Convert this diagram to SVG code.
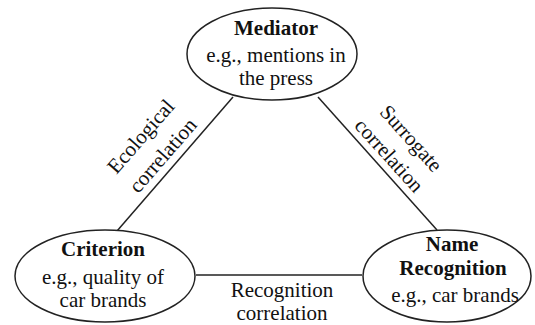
<svg xmlns="http://www.w3.org/2000/svg" width="535" height="325" viewBox="0 0 535 325">
<style>
.node{fill:#fff;stroke:#222;stroke-width:1.5}
.edge{stroke:#222;stroke-width:1.5;fill:none}
text{font-family:"Liberation Serif","Times New Roman",serif;font-size:21px;fill:#111;text-anchor:middle}
.b{font-weight:bold}
</style>
<rect width="535" height="325" fill="#fff"/>
<g id="connectors">
<line class="edge" x1="233" y1="97" x2="117" y2="231"/>
<line class="edge" x1="318" y1="97" x2="437" y2="230"/>
<line class="edge" x1="196" y1="275" x2="362" y2="275"/>
<text transform="translate(146,141) rotate(-49)">Ecological</text>
<text transform="translate(168,160) rotate(-49)">correlation</text>
<text transform="translate(406,143) rotate(48)">Surrogate</text>
<text transform="translate(384,160) rotate(48)">correlation</text>
<text x="282" y="297">Recognition</text>
<text x="282" y="320">correlation</text>
</g>
<g id="mediator">
<ellipse class="node" cx="272" cy="54" rx="85" ry="46"/>
<text class="b" x="276" y="35">Mediator</text>
<text x="276" y="62">e.g., mentions in</text>
<text x="276" y="85">the press</text>
</g>
<g id="criterion">
<ellipse class="node" cx="105" cy="276" rx="90" ry="46"/>
<text class="b" x="103" y="256">Criterion</text>
<text x="103" y="284">e.g., quality of</text>
<text x="103" y="307">car brands</text>
</g>
<g id="name-recognition">
<ellipse class="node" cx="447" cy="276" rx="84" ry="46"/>
<text class="b" x="452" y="251">Name</text>
<text class="b" x="453" y="275">Recognition</text>
<text x="455" y="302">e.g., car brands</text>
</g>
</svg>
